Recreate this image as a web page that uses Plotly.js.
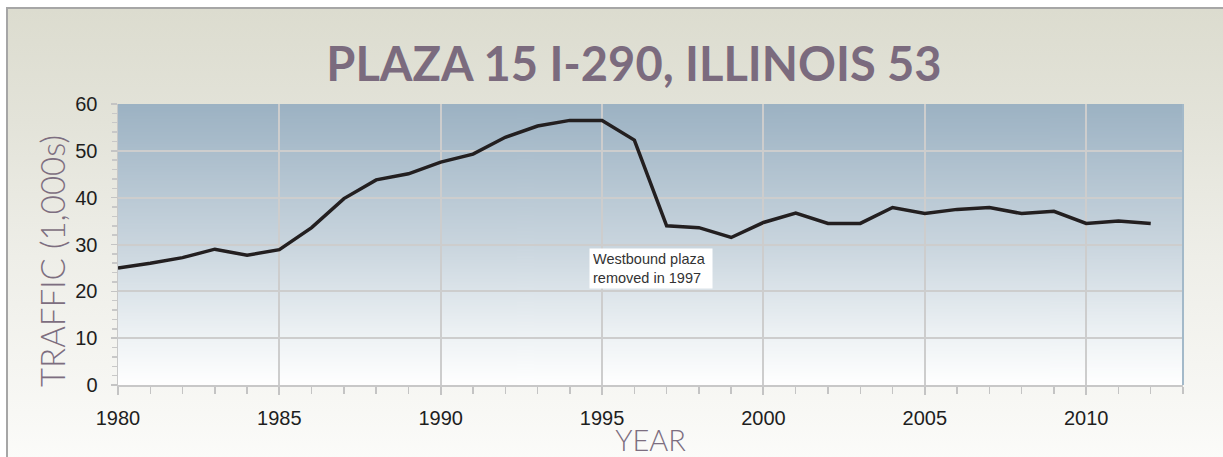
<!DOCTYPE html>
<html>
<head>
<meta charset="utf-8">
<script src="https://cdn.plot.ly/plotly-3.0.1.min.js"></script>
<style>
  html, body { margin: 0; padding: 0; background: #ffffff; }
  #frame {
    position: absolute; left: 6px; top: 7px; width: 1217px; height: 450px;
    border-left: 2px solid #a6a6a6; border-top: 2px solid #a6a6a6;
    background: linear-gradient(to bottom, #dcdccf 0%, #e3e3d9 25%, #eeeee8 55%, #fbfbf9 100%);
  }
  #chart { position: absolute; left: 0; top: 0; width: 1223px; height: 457px; }
</style>
</head>
<body>
<div id="frame"></div>
<div id="chart"></div>
<script>
// ---- data ----
const years = [1980,1981,1982,1983,1984,1985,1986,1987,1988,1989,1990,1991,1992,1993,1994,1995,1996,
               1997,1998,1999,2000,2001,2002,2003,2004,2005,2006,2007,2008,2009,2010,2011,2012];
const traffic = [25.0,26.0,27.2,29.0,27.7,28.9,33.6,39.8,43.8,45.1,47.6,49.3,52.9,55.3,56.5,56.5,52.3,
                 34.0,33.6,31.5,34.7,36.7,34.5,34.5,37.9,36.6,37.5,37.9,36.6,37.1,34.5,35.0,34.5];
const titleText = "PLAZA 15 I-290, ILLINOIS 53";
const yTitle = "TRAFFIC (1,000s)";
const xTitle = "YEAR";
const noteText = "Westbound plaza<br>removed in 1997";
const noteX = 1996.5, noteY = 24.9;

// plot-area gradient image generated locally
function gradientURL(stops) {
  const c = document.createElement('canvas');
  c.width = 4; c.height = 400;
  const g = c.getContext('2d');
  const lg = g.createLinearGradient(0, 0, 0, 400);
  stops.forEach(s => lg.addColorStop(s[0], s[1]));
  g.fillStyle = lg; g.fillRect(0, 0, 4, 400);
  return c.toDataURL('image/png');
}
const plotBg = gradientURL([[0, '#9cb2c3'], [0.5, '#c9d5de'], [0.8, '#ebf0f3'], [1, '#ffffff']]);

const axisTitleFont = { family: 'Lato, "Open Sans", sans-serif', size: 29, color: '#7d6e80', weight: 300 };
const tickFont = { family: '"Liberation Sans", Arial, sans-serif', size: 20, color: '#1e1e1e' };

const trace = {
  x: years, y: traffic, type: 'scatter', mode: 'lines',
  line: { color: '#231f20', width: 3.5 },
  hoverinfo: 'x+y', showlegend: false
};

const layout = {
  width: 1223, height: 457,
  margin: { l: 118, r: 40, t: 104, b: 72, pad: 0 },
  paper_bgcolor: 'rgba(0,0,0,0)',
  plot_bgcolor: 'rgba(0,0,0,0)',
  title: {
    text: titleText,
    x: 634 / 1223, xanchor: 'center', xref: 'container',
    y: 1 - 65 / 457, yanchor: 'middle', yref: 'container',
    font: { family: 'Lato, "Open Sans", sans-serif', size: 47, color: '#7b6b7e', weight: 700 }
  },
  xaxis: {
    range: [1980, 2013], tick0: 1980, dtick: 5,
    ticks: 'outside', ticklen: 8, tickcolor: '#c4c4c4', tickwidth: 2,
    showgrid: true, gridcolor: '#cdcdcd', gridwidth: 2,
    showline: true, linecolor: '#c8c8c8', linewidth: 2,
    zeroline: false,
    tickfont: tickFont, ticklabelstandoff: 6,
    minor: { dtick: 1, ticks: 'outside', ticklen: 7, tickcolor: '#c4c4c4', tickwidth: 1.5, showgrid: false },
    title: { text: xTitle, font: axisTitleFont, standoff: 6 }
  },
  yaxis: {
    range: [0, 60], tick0: 0, dtick: 10,
    ticks: 'outside', ticklen: 6, tickcolor: '#c4c4c4', tickwidth: 1.5,
    showgrid: true, gridcolor: '#cdcdcd', gridwidth: 2,
    showline: true, linecolor: '#c8c8c8', linewidth: 1.5,
    zeroline: false,
    tickfont: tickFont, ticklabelstandoff: 9,
    minor: { dtick: 2, ticks: 'outside', ticklen: 5, tickcolor: '#c8c8c8', tickwidth: 1.5, showgrid: false }
  },
  images: [{
    source: plotBg, xref: 'paper', yref: 'paper', x: 0, y: 1, sizex: 1, sizey: 1,
    xanchor: 'left', yanchor: 'top', sizing: 'stretch', layer: 'below'
  }],
  shapes: [{
    type: 'line', xref: 'x domain', yref: 'y domain', x0: 1, x1: 1, y0: 0, y1: 1,
    line: { color: '#a3b9c9', width: 2 }
  }],
  annotations: [
    {
      text: yTitle, xref: 'paper', yref: 'paper', x: -66 / 1065, y: (385 - 261) / 281,
      xanchor: 'center', yanchor: 'middle', textangle: -90, showarrow: false,
      font: { family: 'Lato, "Open Sans", sans-serif', size: 33, color: '#7d6e80', weight: 300 }
    },
    {
      text: noteText, x: noteX, y: noteY, xref: 'x', yref: 'y', showarrow: false,
      align: 'left', bgcolor: '#ffffff', borderpad: 3, width: 116, height: 33,
      font: { family: '"Liberation Sans", Arial, sans-serif', size: 14.5, color: '#333333' }
    }
  ]
};

Plotly.newPlot('chart', [trace], layout, { displayModeBar: false, staticPlot: true });
</script>
</body>
</html>
